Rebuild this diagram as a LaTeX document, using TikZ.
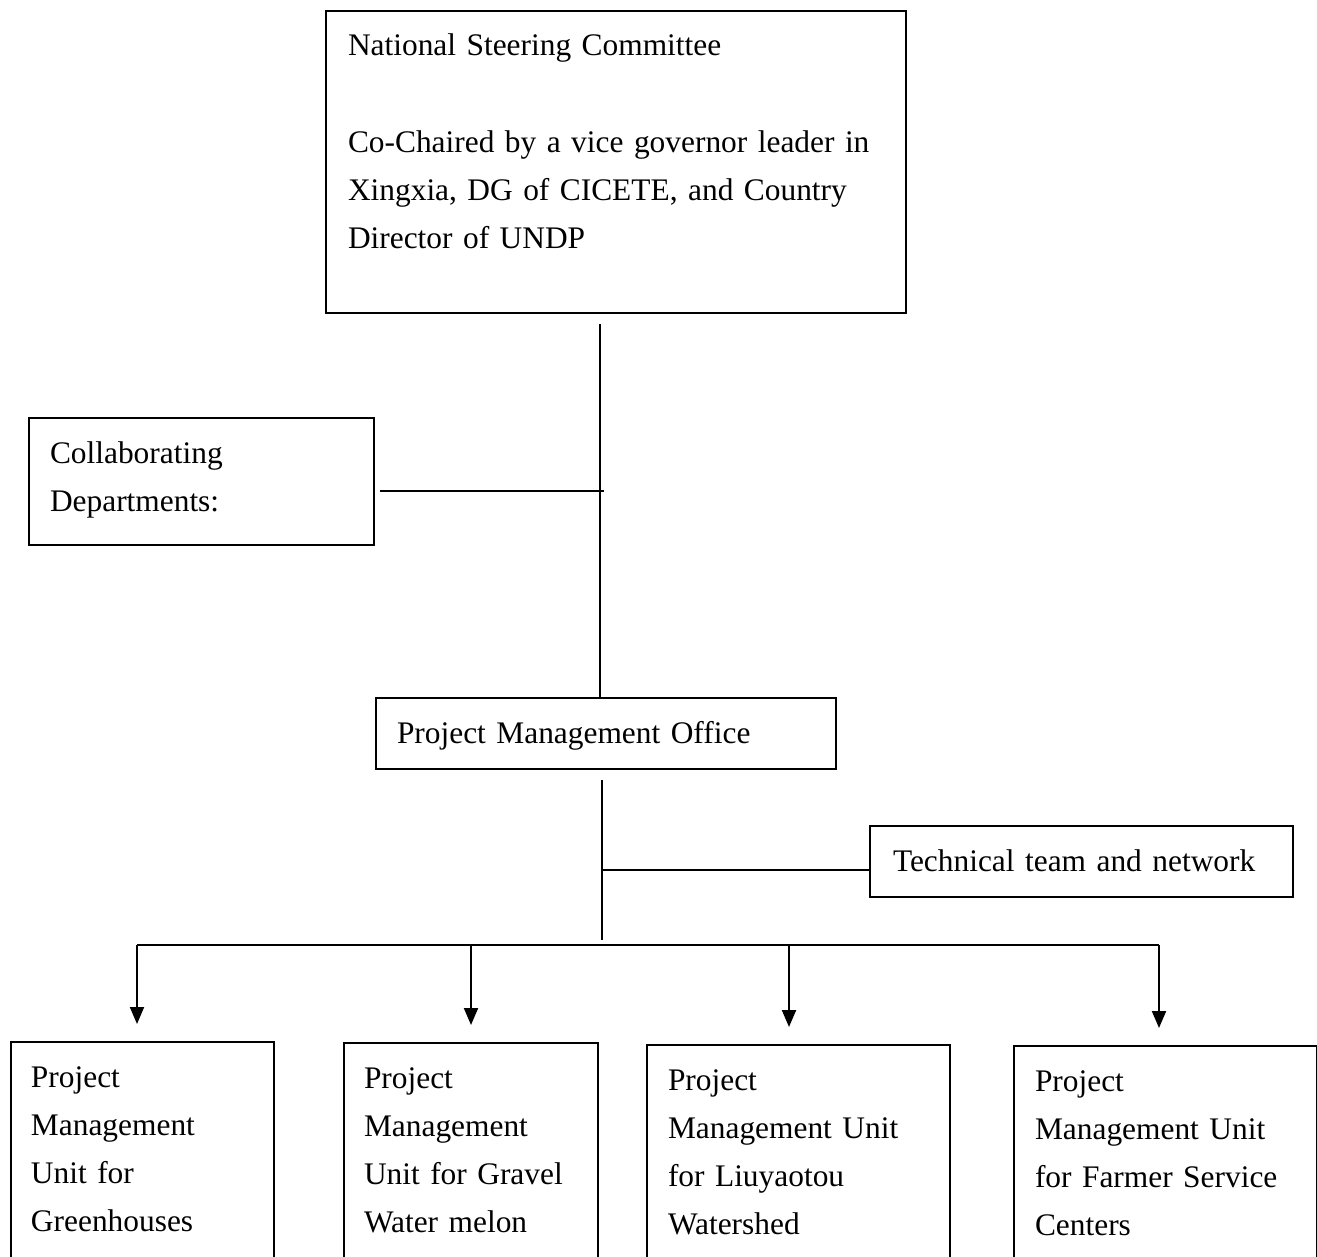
\documentclass[tikz,border=0pt]{standalone}
\usepackage{fontspec}
\setmainfont[WordSpace=0.85]{Liberation Serif}
\usetikzlibrary{arrows.meta, positioning, calc}
\tikzset{
  box/.style={draw, line width=1pt, anchor=north west, inner ysep=0pt, align=left,
    text height=22.5pt, font=\fontsize{15.7}{24}\selectfont},
  link/.style={line width=1pt},
  down/.style={line width=1pt, -{Triangle[width=7pt,length=8.5pt]}, shorten >=8.5pt},
}

\begin{document}
\begin{tikzpicture}[x=0.5pt, y=-0.5pt]
  \useasboundingbox (0,0) rectangle (1317,1257);
  \clip (0,0) rectangle (1317,1257);
  \fill[white] (0,0) rectangle (1317,1257);
  % steering committee and office
  \node[box, inner xsep=11pt, text width=268pt, text depth=128.5pt] (nsc) at (325,10)
    {National Steering Committee\\[24.5pt]Co-Chaired by a vice governor leader in\\Xingxia, DG of CICETE, and Country\\Director of UNDP};
  \node[box, inner xsep=10.5pt, text width=151.5pt, text depth=41pt] (collab) at (28,417)
    {Collaborating\\Departments:};
  \node[box, inner xsep=10.5pt, text width=209pt, text depth=13pt] (pmo) at (375,697)
    {Project Management Office};
  \node[box, inner xsep=11.5pt, text width=188.5pt, text depth=13pt] (tech) at (869,825)
    {Technical team and network};
  % management units
  \node[box, inner xsep=10pt, text width=111.5pt, text depth=97pt] (pmu1) at (10,1041)
    {Project\\Management\\Unit for\\Greenhouses};
  \node[box, inner xsep=10pt, text width=107pt, text depth=97pt] (pmu2) at (343,1042)
    {Project\\Management\\Unit for Gravel\\Water melon};
  \node[box, inner xsep=10.5pt, text width=130.5pt, text depth=97pt] (pmu3) at (646,1044)
    {Project\\Management Unit\\for Liuyaotou\\Watershed};
  \node[box, inner xsep=10.5pt, text width=130.5pt, text depth=97pt] (pmu4) at (1013,1045)
    {Project\\Management Unit\\for Farmer Service\\Centers};

  \coordinate (j1) at (600,491);
  \coordinate (j2) at (602,870);
  \coordinate (bus) at (602,945);
  \coordinate (b1) at (137,945);
  \coordinate (b2) at (471,945);
  \coordinate (b3) at (789,945);
  \coordinate (b4) at (1159,945);

  \draw[link, shorten <=5pt] (nsc.south -| j1) -- (pmo.north -| j1);
  \draw[link, shorten <=2.5pt, shorten >=-2pt] (collab.east |- j1) -- (j1);
  \draw[link, shorten <=5pt, shorten >=2.5pt] (pmo.south -| j2) -- (bus);
  \draw[link] (j2) -- (tech.west |- j2);
  \draw[link] (b1) -- (b4);
  \foreach \i in {1,...,4}
    \draw[down] (b\i) -- (b\i |- pmu\i.north);
\end{tikzpicture}
\end{document}
